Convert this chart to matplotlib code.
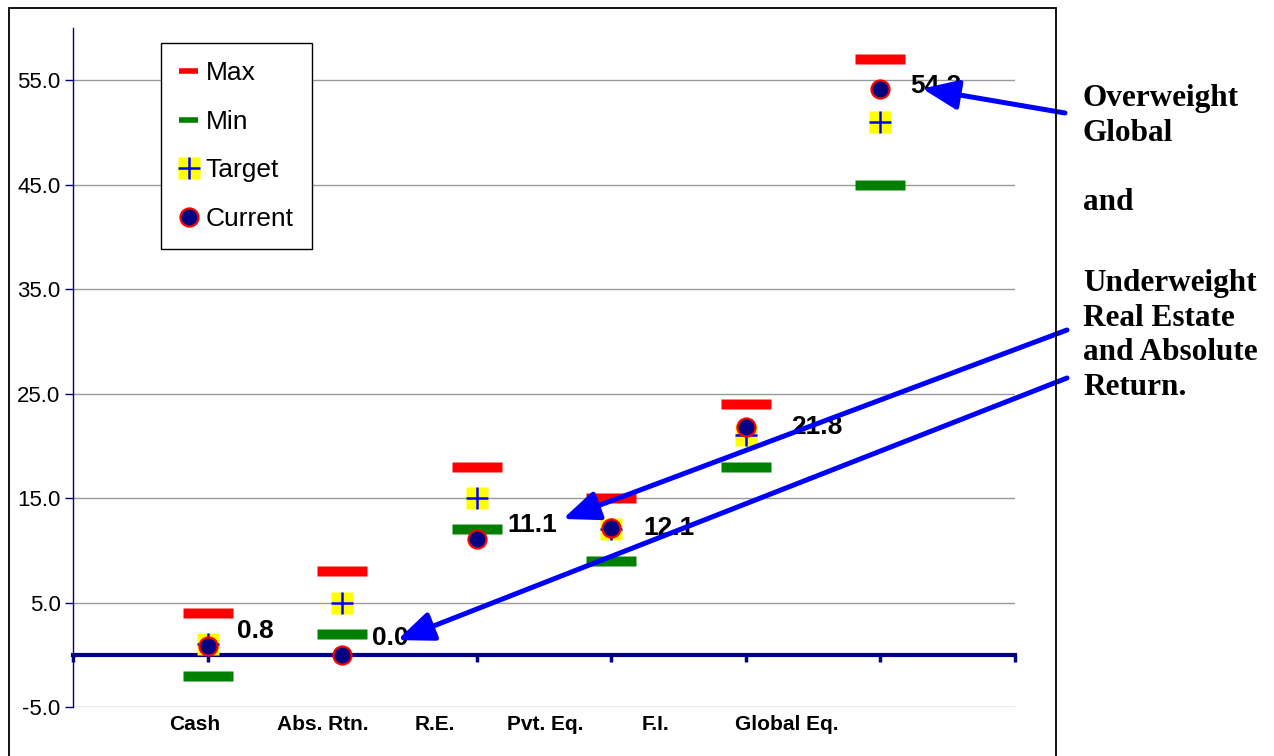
import matplotlib
matplotlib.use('Agg')
import matplotlib.pyplot as plt
from matplotlib.lines import Line2D
from matplotlib.patches import Rectangle
from matplotlib.path import Path

# data
categories = ['Cash', 'Abs. Rtn.', 'R.E.', 'Pvt. Eq.', 'F.I.', 'Global Eq.']
max_w = [4, 8, 18, 15, 24, 57]
min_w = [-2, 2, 12, 9, 18, 45]
target_w = [1, 5, 15, 12, 21, 51]
current_w = [0.8, 0.0, 11.1, 12.1, 21.8, 54.2]
xpos = [1, 2, 3, 4, 5, 6]

# category label spots (they sit off the points in the original)
cat_label_x = [0.906, 1.857, 2.69, 3.507, 4.33, 5.305]
# data label offsets in pixels
lab_dx = [29, 30, 31, 32, 45, 30]
lab_dy = [15, 17, 14, 0, 0, 3]

navy = '#000080'
plt.rcParams['font.family'] = ['Liberation Sans', 'DejaVu Sans']

fig = plt.figure(figsize=(12.74, 7.56), dpi=100)
ax = fig.add_axes([0.0573, 0.0648, 0.7394, 0.8982])

# border round the chart
fig.add_artist(Rectangle((9/1274, -0.02), (1056-9)/1274, 1 - 8/756 + 0.02,
                         transform=fig.transFigure, fill=False, ec='black', lw=1.3))

bar = Path([(-2.45, -0.5), (2.45, -0.5), (2.45, 0.5), (-2.45, 0.5), (-2.45, -0.5)])

ax.plot(xpos, max_w, ls='none', marker=bar, ms=35.3, color='red', mec='none', zorder=3)
ax.plot(xpos, min_w, ls='none', marker=bar, ms=35.3, color='green', mec='none', zorder=3)
ax.plot(xpos, target_w, ls='none', marker='s', ms=16, mfc='yellow', mec='none', zorder=4)
ax.plot(xpos, target_w, ls='none', marker='+', ms=16, mec='blue', mew=1.8, zorder=5)
ax.plot(xpos, current_w, ls='none', marker='o', ms=13, mfc=navy, mec='red', mew=1.6, zorder=6)

for x, v, dx, dy in zip(xpos, current_w, lab_dx, lab_dy):
    ax.annotate('%.1f' % v, (x, v), xytext=(dx, dy), textcoords='offset pixels',
                fontsize=19, fontweight='bold', va='center', ha='left', zorder=7)

for lx, c in zip(cat_label_x, categories):
    ax.text(lx, -6.7, c, fontsize=15, fontweight='bold', ha='center', va='center')

ax.set_xlim(0, 7)
ax.set_ylim(-5, 60)
ax.set_yticks([-5, 5, 15, 25, 35, 45, 55])
ax.set_yticklabels(['%.1f' % t for t in [-5, 5, 15, 25, 35, 45, 55]], fontsize=16)
ax.yaxis.grid(True, color='#999999', lw=1)
ax.set_axisbelow(True)
ax.tick_params(axis='y', direction='out', length=6, width=1, color=navy, pad=3)

ax.set_xticks(range(8))
ax.set_xticklabels([])
ax.spines['bottom'].set_position(('data', 0))
ax.spines['bottom'].set_color(navy)
ax.spines['bottom'].set_linewidth(3)
ax.tick_params(axis='x', direction='out', length=5, width=2.5, color=navy)
ax.spines['left'].set_color(navy)
ax.spines['left'].set_linewidth(1)
ax.spines['top'].set_visible(False)
ax.spines['right'].set_visible(False)

# legend
h_max = Line2D([], [], color='red', lw=4, solid_capstyle='butt')
h_min = Line2D([], [], color='green', lw=4, solid_capstyle='butt')
h_tsq = Line2D([], [], ls='none', marker='s', ms=16, mfc='yellow', mec='none')
h_tpl = Line2D([], [], ls='none', marker='+', ms=16, mec='blue', mew=1.8)
h_cur = Line2D([], [], ls='none', marker='o', ms=13, mfc=navy, mec='red', mew=1.6)
leg = ax.legend([h_max, h_min, (h_tsq, h_tpl), h_cur], ['Max', 'Min', 'Target', 'Current'],
                loc='upper left', bbox_to_anchor=(0.0934, 0.978), fontsize=19,
                handlelength=0.7, handletextpad=0.3, labelspacing=0.93,
                borderpad=0.7, borderaxespad=0, fancybox=False, framealpha=1)
leg.get_frame().set_edgecolor('black')
leg.get_frame().set_linewidth(1)

# commentary on the right
serif = ['Liberation Serif', 'DejaVu Serif']
fig.text(1083/1274, 1 - 84/756, 'Overweight\nGlobal\n\nand',
         family=serif, fontweight='bold', fontsize=22.5,
         ha='left', va='top', linespacing=1.26)
fig.text(1083/1274, 1 - 269/756, 'Underweight\nReal Estate\nand Absolute\nReturn.',
         family=serif, fontweight='bold', fontsize=22.5,
         ha='left', va='top', linespacing=1.26)

arrow = dict(arrowstyle='-|>,head_length=1.1,head_width=0.45', color='blue', lw=3.6,
             mutation_scale=20, shrinkA=0, shrinkB=0)
ax.annotate('', xy=(6.31, 54.2), xytext=(1065/1274, 1 - 113/756),
            textcoords='figure fraction', arrowprops=arrow, annotation_clip=False, zorder=8)
ax.annotate('', xy=(3.64, 13.0), xytext=(1067/1274, 1 - 330/756),
            textcoords='figure fraction', arrowprops=arrow, annotation_clip=False, zorder=8)
ax.annotate('', xy=(2.41, 1.4), xytext=(1067/1274, 1 - 378/756),
            textcoords='figure fraction', arrowprops=arrow, annotation_clip=False, zorder=8)

plt.savefig('out.png', dpi=100)
